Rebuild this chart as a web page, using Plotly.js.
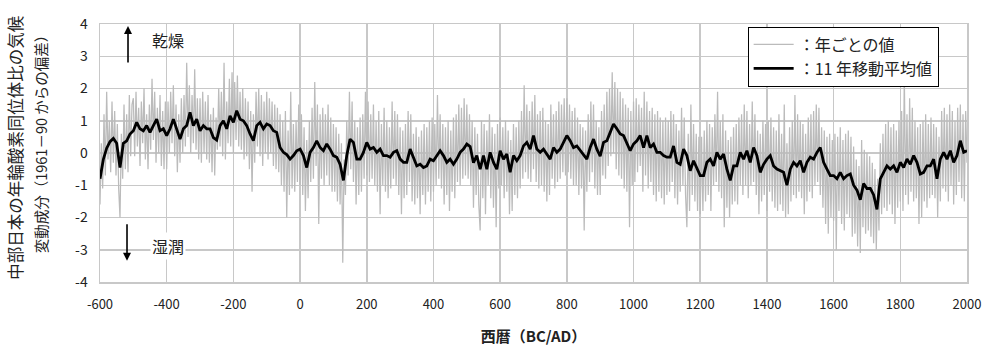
<!DOCTYPE html>
<html><head><meta charset="utf-8">
<script src="https://cdn.plot.ly/plotly-3.0.1.min.js"></script>
<style>html,body{margin:0;padding:0;background:#fff}#chart{width:984px;height:347px}</style>
</head><body><div id="chart"></div>
<script>
// Annual values (read every 4 years), from -600 to 2000
const annualStartYear = -600;
const annualStepYears = 4;
const annualValues = [
 -1.6, 0.3, -1.1, 1.2, -0.7, 1.9, -0.2, 1.0, -0.6, 1.6, -0.3, 1.3, -0.7, 0.9, -1.1, -2.0, 0.6, -0.8, 1.5, -0.5, 1.2, -0.6, 1.8, -0.1, 1.5,
 1.7, -0.1, 1.9, 0.2, 1.4, -0.4, 1.6, 0.3, 2.0, -0.2, 1.2, -0.5, 1.5, 0.1, 2.3, 0.4, 1.9, -0.3, 1.4, 0.0, 1.8, -0.4, 1.3, -0.5, 1.6,
 -0.5, 1.6, 0.0, 1.9, 0.3, 2.1, -0.1, 1.5, -0.6, 1.2, -0.3, 1.7, 0.0, 1.8, 0.2, 2.8, 0.5, 2.1, 0.0, 1.8, 0.3, 2.6, 0.1, 1.7, -0.2,
 1.7, -0.3, 1.9, 0.0, 1.6, -0.2, 1.8, -0.3, 1.2, -0.6, 1.4, -0.7, 1.1, 0.1, 2.0, 0.2, 1.9, -0.1, 2.8, -0.2, 1.6, 0.3, 2.3, 0.2, 2.5,
 0.0, 2.2, 0.4, 2.4, 0.2, 1.9, 0.1, 2.0, -0.2, 1.7, -0.1, 1.6, -0.5, 1.3, -1.2, 1.2, -0.3, 1.9, 0.2, 2.0, -0.1, 1.8, -0.4, 1.6, 0.0,
 1.9, -0.2, 1.7, 0.0, 1.6, -0.4, 1.5, -0.5, 1.4, -0.6, 1.2, -1.0, 1.0, -1.2, 1.3, -2.0, 0.7, -1.3, 1.9, -1.1, 0.9, -1.2, 1.0, -0.9, 1.5,
 -1.0, 1.2, -1.3, 0.8, -1.8, 0.4, -1.4, 1.0, -0.9, 1.4, -0.8, 2.2, -0.4, 1.5, -2.2, 1.2, -0.8, 1.4, -1.0, 1.2, -0.7, 1.5, -1.0, 1.1, -1.2,
 0.9, -1.2, 0.8, -1.5, 0.6, -1.6, 0.3, -3.4, -0.2, -1.3, 1.0, -0.7, 1.9, -0.5, 1.6, -0.9, 1.0, -1.6, 0.8, -1.3, 1.1, -1.2, 1.2, -0.8, 1.9,
 -0.7, 1.6, -0.9, 1.2, -0.8, 1.5, -1.0, 1.0, -1.2, 1.3, -1.9, 0.9, -1.0, 1.4, -1.2, 1.0, -1.4, 0.8, -1.1, 1.6, -0.8, 1.3, -1.0, 1.2, -1.3,
 0.8, -1.9, 0.7, -1.4, 0.9, -1.3, 1.3, -0.9, 1.2, -1.5, 0.6, -1.6, 0.8, -1.4, 0.5, -1.9, 0.7, -1.3, 0.9, -1.6, 0.8, -1.2, 1.0, -1.5, 1.1,
 -1.2, 0.9, -1.0, 1.8, -0.8, 1.2, -1.1, 0.9, -1.6, 0.8, -1.3, 1.0, -1.8, 0.7, -1.2, 1.1, -1.4, 1.2, -0.9, 1.5, -1.0, 1.4, -0.8, 1.7, -0.7,
 1.5, -0.8, 1.2, -1.0, 1.0, -1.7, 0.8, -1.3, 0.6, -1.6, -2.4, 1.0, -1.4, 0.9, -1.9, 0.7, -1.0, 1.2, -1.4, 0.8, -1.7, 0.6, -2.3, 0.9, -1.1,
 1.1, -1.0, 0.8, -1.4, 1.0, -1.2, 0.7, -1.9, 0.4, -1.8, 0.9, -1.3, 0.8, -1.4, 1.0, -1.1, 1.3, -0.8, 2.1, -0.6, 1.5, -0.8, 1.3, -0.9, 1.6,
 -0.5, 1.8, -0.9, 1.2, -1.1, 1.3, -1.0, 1.4, -1.2, 1.0, -1.5, 0.9, -1.3, 1.5, -0.8, 1.2, -1.1, 1.3, -0.9, 1.6, -0.8, 1.5, -0.6, 1.7, -0.7,
 1.7, -0.6, 1.5, -0.8, 1.3, -1.0, 1.4, -1.0, 1.1, -1.3, 0.9, -1.1, 0.8, -2.4, 0.7, -1.2, 1.2, -0.9, 1.6, -0.6, 1.5, -1.1, 1.0, -1.3, 0.8,
 -1.3, 1.3, -0.7, 1.5, -0.8, 1.9, -0.4, 2.0, -0.1, 2.5, 0.0, 2.2, -0.5, 2.0, -0.7, 1.9, -0.8, 1.7, -1.1, 1.5, -1.2, 1.4, -2.3, 1.3, -1.0,
 1.6, -0.9, 1.7, -0.6, 1.5, -0.4, 1.4, -1.2, 1.9, -0.7, 1.6, -1.1, 1.3, -0.9, 1.4, -1.3, 1.2, -1.5, 1.3, -1.2, 1.1, -1.4, 1.0, -1.6, 1.1,
 -1.3, 1.0, -1.2, 1.3, -0.9, 1.2, -1.4, 0.9, -1.6, 0.7, -1.2, 1.4, -1.0, 1.1, -1.3, -2.3, 0.6, -1.8, 1.5, -1.3, 0.9, -1.5, 0.6, -1.8, 0.5,
 -1.9, 0.5, -1.8, 0.7, -1.5, 1.0, -1.3, 0.9, -1.8, 0.8, -1.0, 1.2, -0.9, 1.9, -1.2, 1.0, -1.4, 1.2, -2.3, 0.7, -1.7, 0.4, -2.0, 0.5, -1.6,
 0.8, -1.5, 0.9, -1.6, 1.1, -1.0, 1.2, -1.3, 1.5, -1.0, 1.3, -1.4, 0.9, -1.0, 1.6, -0.9, 1.2, -1.3, 0.7, -1.9, 0.6, -1.5, 1.0, -1.3, 0.9,
 -1.8, 1.0, -1.2, 1.1, -1.5, 0.8, -1.7, 0.7, -1.8, 1.2, -1.6, 0.6, -1.8, 1.5, -2.0, 0.3, -1.9, 0.8, -1.5, 1.0, -1.3, 1.8, -1.4, 1.2, -1.2,
 1.0, -1.4, 0.9, -1.9, 0.6, -1.5, 1.1, -1.2, 1.2, -1.4, 1.3, -1.0, 1.5, -0.9, 1.4, -1.3, 0.8, -1.7, 0.7, -2.2, 0.5, -2.5, 0.6, -2.0, 0.4,
 -2.1, 0.6, -3.0, 0.5, -1.8, 0.8, -2.2, 0.4, -2.4, 0.6, -1.9, 0.7, -2.0, 0.5, -2.6, 0.2, -2.5, -0.2, -2.9, -0.4, -3.1, 0.4, -2.3, 0.1, -2.5,
 0.0, -2.4, -0.1, -2.6, -0.3, -2.8, -0.5, -3.0, -0.8, -2.4, 0.3, -1.9, 0.6, -1.7, 0.9, -1.8, 1.0, -1.6, 0.8, -1.9, 0.9, -2.2, 0.7, -1.7, 1.0,
 -1.5, 1.3, -1.8, 2.4, -1.3, 1.2, -1.6, 1.7, -1.2, 1.4, -1.5, 1.0, -1.4, 0.8, -2.2, 0.9, -2.0, 1.0, -1.5, 1.2, -1.7, 0.9, -1.4, 1.1, -1.3,
 0.9, -1.4, 0.8, -2.0, 0.5, -1.5, 1.3, -1.1, 1.4, -1.2, 1.2, -1.5, 1.5, -1.0, 1.3, -1.6, 1.0, -1.3, 1.4, -0.9, 1.5, -1.4, 1.2, -1.5, 1.3,
 -0.3
];

// 11-year moving average (read every 10 years), from -600 to 2000
const movingAvgStartYear = -600;
const movingAvgStepYears = 10;
const movingAvgValues = [
 -0.8, -0.2, 0.15, 0.35, 0.45, 0.3, -0.45, 0.3, 0.38, 0.59,
 0.69, 0.95, 0.75, 0.69, 0.85, 0.64, 0.85, 1.05, 0.69, 0.75,
 0.54, 0.75, 1.05, 0.75, 0.43, 0.75, 0.85, 1.26, 0.85, 1.05,
 0.69, 0.85, 0.75, 0.75, 0.48, 0.4, 0.85, 1.0, 0.75, 1.15,
 0.95, 1.31, 1.05, 1.0, 0.85, 0.59, 0.38, 0.85, 0.95, 0.75,
 0.9, 0.85, 0.69, 0.64, 0.17, 0.02, -0.05, -0.19, -0.08, 0.07,
 0.12, -0.08, -0.45, 0.02, 0.17, 0.38, 0.17, 0.07, 0.28, 0.12,
 -0.08, -0.13, -0.35, -0.85, -0.08, 0.43, 0.33, -0.19, -0.19, 0.02,
 0.33, 0.12, 0.17, 0.02, 0.12, -0.08, -0.08, -0.13, 0.02, 0.07,
 -0.19, -0.29, -0.29, 0.12, -0.13, -0.4, -0.35, -0.45, -0.4, -0.19,
 -0.24, -0.08, 0.07, -0.08, -0.29, -0.19, -0.35, -0.19, 0.02, 0.12,
 0.28, 0.2, -0.3, -0.08, -0.5, -0.08, -0.5, 0.02, -0.29, -0.5,
 0.07, -0.19, -0.03, -0.6, -0.08, -0.24, -0.08, 0.22, 0.33, 0.12,
 0.54, 0.12, 0.02, 0.12, -0.03, -0.19, 0.17, 0.02, 0.12, 0.33,
 0.54, 0.38, 0.17, 0.22, 0.07, -0.08, -0.19, 0.17, 0.43, 0.12,
 -0.1, 0.33, 0.38, 0.64, 0.9, 0.75, 0.59, 0.54, 0.28, 0.07,
 0.28, 0.38, 0.54, 0.17, 0.54, 0.17, 0.28, 0.02, 0.02, -0.08,
 -0.13, -0.13, 0.22, -0.29, -0.35, 0.12, -0.08, -0.55, -0.24, -0.45,
 -0.7, -0.7, -0.29, -0.19, -0.4, 0.02, -0.19, -0.03, -0.5, -0.85,
 -0.4, -0.4, 0.02, -0.19, 0.07, -0.29, 0.17, -0.08, -0.6, -0.35,
 -0.19, -0.08, -0.4, -0.5, -0.55, -0.6, -1.0, -0.5, -0.29, -0.4,
 -0.24, -0.6, -0.29, -0.13, -0.19, 0.02, 0.17, -0.29, -0.5, -0.7,
 -0.7, -0.8, -0.6, -0.8, -0.7, -0.65, -1.0, -1.15, -1.45, -0.95,
 -1.1, -1.1, -1.3, -1.75, -0.8, -0.6, -0.4, -0.5, -0.4, -0.6,
 -0.29, -0.45, -0.19, -0.35, -0.08, -0.29, -0.65, -0.6, -0.4, -0.4,
 -0.19, -0.8, -0.19, 0.02, -0.19, 0.07, -0.29, -0.08, 0.38, 0.02,
 0.07
];

const xTickVals = [-600, -400, -200, 0, 200, 400, 600, 800, 1000, 1200, 1400, 1600, 1800, 2000];
const xTickText = ['-600', '-400', '-200', '0', '200', '400', '600', '800', '1000', '1200', '1400', '1600', '1800', '2000'];
const yTickVals = [-4, -3, -2, -1, 0, 1, 2, 3, 4];
const yTickText = ['-4', '-3', '-2', '-1', '0', '1', '2', '3', '4'];
const legendNames = ['：年ごとの値', '：11 年移動平均値'];
const yTitleLines = ['中部日本の年輪酸素同位体比の気候', '変動成分（1961－90 からの偏差）'];
const xTitleText = '西暦（BC/AD）';
const dryLabel = '乾燥';
const wetLabel = '湿潤';

const annualYears = annualValues.map((_, i) => annualStartYear + i * annualStepYears);
const movingAvgYears = movingAvgValues.map((_, i) => movingAvgStartYear + i * movingAvgStepYears);

const FONT = '"Noto Sans CJK JP", "Noto Sans", sans-serif';
const GRID = '#c8c8c8';

const traces = [
  {x: annualYears, y: annualValues, type: 'scatter', mode: 'lines', name: legendNames[0],
   line: {color: '#bbbbbb', width: 1.25}, hoverinfo: 'skip'},
  {x: movingAvgYears, y: movingAvgValues, type: 'scatter', mode: 'lines', name: legendNames[1],
   line: {color: '#000000', width: 2.8}, hoverinfo: 'skip'}
];

const layout = {
  width: 984, height: 347,
  margin: {l: 100, r: 17, t: 24, b: 65},
  paper_bgcolor: '#ffffff', plot_bgcolor: '#ffffff',
  font: {family: FONT, size: 13, color: '#222222'},
  showlegend: true,
  legend: {x: 0.747, y: 0.99, xanchor: 'left', yanchor: 'top', bgcolor: '#ffffff',
           bordercolor: '#000000', borderwidth: 1, font: {family: FONT, size: 16, color: '#222'},
           tracegroupgap: 0, itemwidth: 40},
  xaxis: {range: [-600, 2000], tickmode: 'array', tickvals: xTickVals, ticktext: xTickText,
          showgrid: true, gridcolor: GRID, gridwidth: 1.5, zeroline: false,
          showline: true, mirror: true, linecolor: GRID, linewidth: 1.5, ticks: '',
          ticklabelstandoff: 10, tickfont: {family: FONT, size: 13, color: '#222'},
          title: {text: xTitleText, font: {family: FONT, size: 15, color: '#222', weight: 'bold'}, standoff: 19}},
  yaxis: {range: [-4, 4], tickmode: 'array', tickvals: yTickVals, ticktext: yTickText,
          showgrid: true, gridcolor: GRID, gridwidth: 1.5, zeroline: false,
          showline: true, mirror: true, linecolor: GRID, linewidth: 1.5, ticks: '',
          ticklabelstandoff: 8, tickfont: {family: FONT, size: 14, color: '#222'}},
  annotations: [
    {xref: 'paper', yref: 'paper', x: -0.098, y: 0.52, text: yTitleLines[0], textangle: -90,
     showarrow: false, font: {family: FONT, size: 16.5, color: '#222'}, xanchor: 'center', yanchor: 'middle'},
    {xref: 'paper', yref: 'paper', x: -0.069, y: 0.55, text: yTitleLines[1], textangle: -90,
     showarrow: false, font: {family: FONT, size: 14.5, color: '#222'}, xanchor: 'center', yanchor: 'middle'},
    {x: -516, y: 3.94, xref: 'x', yref: 'y', text: '', showarrow: true, ax: 0, ay: 38,
     arrowhead: 2, arrowsize: 1, arrowwidth: 1.6, arrowcolor: '#000'},
    {x: -519, y: -3.34, xref: 'x', yref: 'y', text: '', showarrow: true, ax: 0, ay: -38,
     arrowhead: 2, arrowsize: 1, arrowwidth: 1.6, arrowcolor: '#000'},
    {x: -396, y: 3.51, xref: 'x', yref: 'y', text: dryLabel, showarrow: false,
     font: {family: FONT, size: 16, color: '#222'}},
    {x: -396, y: -2.87, xref: 'x', yref: 'y', text: wetLabel, showarrow: false, bgcolor: '#ffffff',
     font: {family: FONT, size: 16, color: '#222'}}
  ]
};

Plotly.newPlot('chart', traces, layout, {displayModeBar: false, staticPlot: true});
</script>
</body></html>
